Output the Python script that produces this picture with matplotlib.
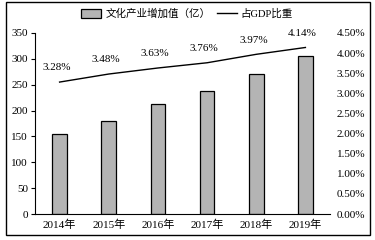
import matplotlib
matplotlib.use("Agg")
import matplotlib.pyplot as plt
from matplotlib.patches import Rectangle
from matplotlib.ticker import FuncFormatter

years = ["2014年", "2015年", "2016年", "2017年", "2018年", "2019年"]
added_value = [154, 180, 212, 238, 270, 305]
gdp_share = [3.28, 3.48, 3.63, 3.76, 3.97, 4.14]
share_labels = ["3.28%", "3.48%", "3.63%", "3.76%", "3.97%", "4.14%"]

plt.rcParams['font.family'] = ['Liberation Serif', 'Noto Sans CJK SC', 'DejaVu Sans']

fig = plt.figure(figsize=(3.75, 2.4), dpi=100)
fig.patches.append(Rectangle((6/375, 5/240), 364/375, 233/240, transform=fig.transFigure,
                             fill=False, edgecolor='black', linewidth=1.0))
ax = fig.add_axes([35/375, 1-214/240, 295/375, 181/240])
x = list(range(len(years)))
bars = ax.bar(x, added_value, width=0.3, color='#b4b4b4', edgecolor='black', linewidth=0.9,
              label='文化产业增加值（亿）')
ax.set_xlim(-0.5, 5.5)
ax.set_ylim(0, 350)
ax.set_yticks(range(0, 351, 50))
ax.set_xticks(x)
ax.set_xticklabels(years, fontsize=8)
ax.tick_params(axis='x', length=0, pad=4)
ax.tick_params(axis='y', direction='out', length=3, width=0.8, labelsize=8, pad=2)
for s in ['top', 'right']:
    ax.spines[s].set_visible(False)
ax.spines['left'].set_linewidth(0.8)
ax.spines['bottom'].set_linewidth(0.8)

ax2 = ax.twinx()
line, = ax2.plot(x, gdp_share, color='black', linewidth=1.0, label='占GDP比重')
ax2.set_ylim(0, 4.5)
ax2.set_yticks([i * 0.5 for i in range(10)])
ax2.yaxis.set_major_formatter(FuncFormatter(lambda v, p: f"{v:.2f}%"))
ax2.tick_params(axis='y', length=0, labelsize=8, pad=5)
for s in ['top', 'right', 'left', 'bottom']:
    ax2.spines[s].set_visible(False)
for xi, yi, lab in zip(x, gdp_share, share_labels):
    ax2.annotate(lab, (xi, yi), xytext=(-2, 7), textcoords='offset points',
                 ha='center', va='bottom', fontsize=8)

leg = fig.legend([bars, line], ['文化产业增加值（亿）', '占GDP比重'], loc='center',
                 bbox_to_anchor=(187/375, 1-14/240), ncol=2, frameon=False, fontsize=7.6,
                 handlelength=1.9, handleheight=0.8, columnspacing=0.6, handletextpad=0.4)

fig.savefig("out.png", dpi=100)
